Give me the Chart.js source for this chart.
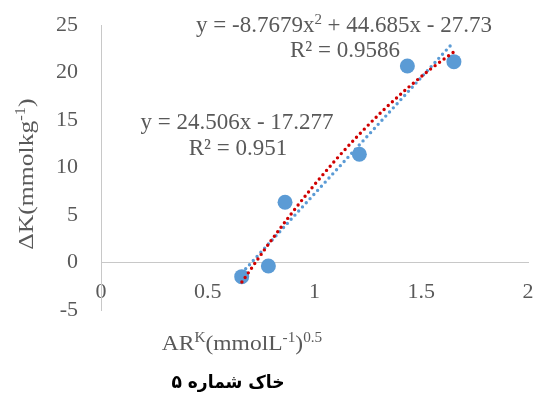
<!DOCTYPE html>
<html><head><meta charset="utf-8">
<style>html,body{margin:0;padding:0;background:#fff;}#wrap{width:536px;height:400px;position:relative;}</style>
<script src="https://cdn.jsdelivr.net/npm/chart.js@4"></script>
</head><body><div id="wrap"><canvas id="c" width="536" height="400"></canvas></div>
<script>
// ---- data ----
const pointX = [0.659, 0.784, 0.862, 1.210, 1.435, 1.653];
const pointY = [-1.49, -0.37, 6.34, 11.39, 20.68, 21.14];
const linearX = [0.66, 1.65];
const linearY = [-1.10, 23.16];
const polyX = [0.66, 0.77, 0.88, 0.99, 1.10, 1.21, 1.32, 1.43, 1.54, 1.65];
const polyY = [-2.06, 1.48, 4.80, 7.92, 10.82, 13.50, 15.98, 18.24, 20.29, 22.13];
const xTicks = [0, 0.5, 1, 1.5, 2];
const yTicks = [-5, 0, 5, 10, 15, 20, 25];
// ---- texts (segments: [text, isSuperscript]) ----
const polyEquation = [['y = -8.7679x', 0], ['2', 1], [' + 44.685x - 27.73', 0]];
const polyR2 = [['R² = 0.9586', 0]];
const linearEquation = [['y = 24.506x - 17.277', 0]];
const linearR2 = [['R² = 0.951', 0]];
const xTitle = [['AR', 0], ['K', 1], ['(mmolL', 0], ['-1', 1], [')', 0], ['0.5', 1]];
const yTitle = [['ΔK(mmolkg', 0], ['-1', 1], [')', 0]];
const chartTitle = 'خاک شماره ۵';

const TXT = '#595959';
const SERIF = '"Liberation Serif", "Times New Roman", serif';

function drawRich(ctx, segs, size, sx) {
  const sub = size * 0.65;
  let total = 0;
  const w = segs.map(([t, s]) => {
    ctx.font = (s ? sub : size) + 'px ' + SERIF;
    const m = ctx.measureText(t).width; total += m; return m;
  });
  ctx.scale(sx, 1);
  let x = -total / 2;
  ctx.textAlign = 'left'; ctx.textBaseline = 'alphabetic'; ctx.fillStyle = TXT;
  segs.forEach(([t, s], i) => {
    ctx.font = (s ? sub : size) + 'px ' + SERIF;
    ctx.fillText(t, x, s ? -size * 0.36 : 0);
    x += w[i];
  });
}
function richAt(ctx, segs, cx, by, size, sx, rot) {
  ctx.save(); ctx.translate(cx, by); if (rot) ctx.rotate(rot);
  drawRich(ctx, segs, size, sx); ctx.restore();
}

const textPlugin = {
  id: 'texts',
  afterDraw(chart) {
    const ctx = chart.ctx;
    richAt(ctx, polyEquation, 344, 32, 23, 1);
    richAt(ctx, polyR2, 345, 57, 23, 1);
    richAt(ctx, linearEquation, 237, 129, 23, 1);
    richAt(ctx, linearR2, 238, 155, 23, 1);
    richAt(ctx, xTitle, 242, 350, 21, 1.12);
    richAt(ctx, yTitle, 33, 174, 21, 1.22, -Math.PI / 2);
    ctx.save();
    ctx.font = 'bold 18px "DejaVu Sans", sans-serif';
    ctx.fillStyle = '#000'; ctx.textAlign = 'center'; ctx.textBaseline = 'alphabetic';
    ctx.direction = 'rtl';
    ctx.translate(228, 388);
    ctx.scale(0.95, 1);
    ctx.fillText(chartTitle, 0, 0);
    ctx.restore();
  }
};

const toPts = (xs, ys) => xs.map((x, i) => ({x, y: ys[i]}));

new Chart(document.getElementById('c'), {
  type: 'scatter',
  data: {
    datasets: [
      { label: 'poly', data: toPts(polyX, polyY), showLine: true, borderColor: '#D00000',
        borderWidth: 3.4, borderDash: [0, 5.6], borderCapStyle: 'round', pointRadius: 0,
        cubicInterpolationMode: 'monotone', fill: false },
      { label: 'linear', data: toPts(linearX, linearY), showLine: true, borderColor: '#5B9BD5',
        borderWidth: 3.4, borderDash: [0, 5.6], borderCapStyle: 'round', pointRadius: 0, fill: false },
      { label: 'data', data: toPts(pointX, pointY), pointRadius: 7.5, pointHoverRadius: 7.5,
        backgroundColor: '#5B9BD5', borderWidth: 0, showLine: false }
    ]
  },
  options: {
    responsive: false, animation: false, devicePixelRatio: 1,
    layout: { padding: { left: 0, top: 25, right: 8, bottom: 90 } },
    plugins: { legend: { display: false }, tooltip: { enabled: false } },
    scales: {
      x: {
        type: 'linear', position: { y: 0 }, min: 0, max: 2,
        afterBuildTicks: s => { s.ticks = xTicks.map(v => ({ value: v })); },
        afterFit: s => { s.paddingLeft = 0; s.paddingRight = 0; s.paddingTop = 0; s.paddingBottom = 0; },
        grid: { display: false, drawTicks: false },
        border: { display: true, color: '#C8C8C8', width: 1 },
        ticks: { color: TXT, padding: 17, maxRotation: 0, callback: v => String(v),
                 font: { family: SERIF, size: 22 } }
      },
      y: {
        type: 'linear', min: -5, max: 25,
        afterBuildTicks: s => { s.ticks = yTicks.map(v => ({ value: v })); },
        afterFit: s => { s.width = 101; s.paddingTop = 0; s.paddingBottom = 0; },
        grid: { display: false, drawTicks: false },
        border: { display: true, color: '#C8C8C8', width: 1 },
        ticks: { color: TXT, padding: 23, callback: v => String(v), font: { family: SERIF, size: 22 } }
      }
    }
  },
  plugins: [textPlugin]
});
</script></body></html>
